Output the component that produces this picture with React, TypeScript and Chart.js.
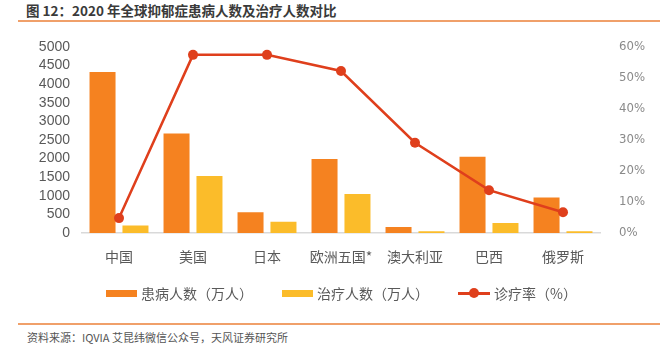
import React, { useEffect, useRef } from "react";
import { Chart, registerables } from "chart.js";
Chart.register(...registerables);

const categories = ["中国", "美国", "日本", "欧洲五国*", "澳大利亚", "巴西", "俄罗斯"];
const patients = [4320, 2670, 560, 1990, 160, 2050, 950];
const treated = [200, 1530, 300, 1050, 45, 270, 45];
const treatRate = [4.8, 57.4, 57.4, 52.2, 29.1, 13.8, 6.7];
const leftTicks = [0, 500, 1000, 1500, 2000, 2500, 3000, 3500, 4000, 4500, 5000];
const rightTicks = [0, 10, 20, 30, 40, 50, 60];

const ORANGE = "#F58220";
const YELLOW = "#FBBC2A";
const RED = "#DF3F1C";
const CJK = '"Noto Sans CJK SC", "Noto Sans", sans-serif';

export default function App() {
  const ref = useRef<HTMLCanvasElement>(null);
  useEffect(() => {
    document.body.style.margin = "0";
    const chart = new Chart(ref.current!, {
      type: "bar",
      data: {
        labels: categories,
        datasets: [
          {
            type: "line",
            label: "诊疗率（%）",
            data: treatRate,
            yAxisID: "y1",
            borderColor: RED,
            backgroundColor: RED,
            borderWidth: 2.5,
            pointRadius: 5,
            pointBackgroundColor: RED,
            pointBorderWidth: 0,
            tension: 0,
            order: 0,
          } as any,
          {
            label: "患病人数（万人）",
            data: patients,
            backgroundColor: ORANGE,
            yAxisID: "y",
            categoryPercentage: 0.89,
            barPercentage: 0.79,
            order: 1,
          },
          {
            label: "治疗人数（万人）",
            data: treated,
            backgroundColor: YELLOW,
            yAxisID: "y",
            categoryPercentage: 0.89,
            barPercentage: 0.79,
            order: 2,
          },
        ],
      },
      options: {
        animation: false,
        responsive: false,
        maintainAspectRatio: false,
        layout: { padding: { top: 7, left: 0, right: 0, bottom: 0 } },
        plugins: { legend: { display: false }, tooltip: { enabled: false } },
        scales: {
          x: {
            grid: { display: false, drawTicks: false },
            border: { display: true, color: "#D9D9D9", width: 1.5 },
            ticks: {
              padding: 15,
              color: "#595959",
              font: { family: CJK, size: 14 },
              maxRotation: 0,
              autoSkip: false,
            },
            afterFit: (s: any) => {
              s.height = 57;
            },
          },
          y: {
            position: "left",
            min: 0,
            max: 5000,
            afterBuildTicks: (s: any) => {
              s.ticks = leftTicks.map((v) => ({ value: v }));
            },
            grid: { display: false, drawTicks: false },
            border: { display: false },
            ticks: {
              autoSkip: false,
              padding: 12,
              color: "#595959",
              font: { family: '"Liberation Sans", Arial, sans-serif', size: 14 },
              callback: (v: any) => String(v),
            },
            afterFit: (s: any) => {
              s.width = 82;
            },
          },
          y1: {
            position: "right",
            min: 0,
            max: 60,
            afterBuildTicks: (s: any) => {
              s.ticks = rightTicks.map((v) => ({ value: v }));
            },
            grid: { display: false, drawTicks: false },
            border: { display: false },
            ticks: {
              autoSkip: false,
              padding: 19,
              color: "#8a8a8a",
              font: { family: '"Liberation Sans Narrow", "DejaVu Sans Condensed", sans-serif', size: 13 },
              callback: (v: any) => v + "%",
            },
            afterFit: (s: any) => {
              s.width = 70;
            },
          },
        },
      },
    });
    return () => chart.destroy();
  }, []);

  const legendItem = (left: number, kind: "bar" | "line", color: string, text: string) => (
    <div style={{ position: "absolute", left, top: 282, height: 22, display: "flex", alignItems: "center" }}>
      {kind === "bar" ? (
        <div style={{ width: 31, height: 7, background: color, marginRight: 4 }} />
      ) : (
        <div style={{ position: "relative", width: 32, height: 10, marginRight: 4 }}>
          <div style={{ position: "absolute", left: 0, top: 4, width: 32, height: 2.5, background: color }} />
          <div style={{ position: "absolute", left: 11, top: 0, width: 10, height: 10, borderRadius: 5, background: color }} />
        </div>
      )}
      <span style={{ fontFamily: CJK, fontSize: 14, color: "#595959", whiteSpace: "nowrap" }}>{text}</span>
    </div>
  );

  return (
    <div style={{ position: "relative", width: 670, height: 351, background: "#fff", overflow: "hidden" }}>
      <div
        style={{
          position: "absolute",
          left: 26,
          top: 0,
          fontFamily: CJK,
          fontWeight: "bold",
          fontSize: 13.5,
          color: "#3a3a3a",
          whiteSpace: "nowrap",
        }}
      >
        图 12：2020 年全球抑郁症患病人数及治疗人数对比
      </div>
      <div style={{ position: "absolute", left: 18, top: 20, width: 642, height: 1.5, background: "#F0A06A" }} />
      <canvas ref={ref} width={670} height={270} style={{ position: "absolute", left: 0, top: 20 }} />
      {legendItem(106, "bar", ORANGE, "患病人数（万人）")}
      {legendItem(282, "bar", YELLOW, "治疗人数（万人）")}
      {legendItem(458, "line", RED, "诊疗率（%）")}
      <div style={{ position: "absolute", left: 18, top: 323, width: 642, height: 1.5, background: "#F0A06A" }} />
      <div
        style={{
          position: "absolute",
          left: 27,
          top: 329,
          fontFamily: CJK,
          fontSize: 11,
          color: "#555",
          whiteSpace: "nowrap",
        }}
      >
        资料来源：IQVIA 艾昆纬微信公众号，天风证券研究所
      </div>
    </div>
  );
}
